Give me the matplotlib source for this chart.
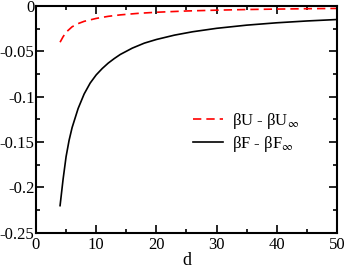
import numpy as np
import matplotlib
matplotlib.use('Agg')
import matplotlib.pyplot as plt
from matplotlib.ticker import MultipleLocator

plt.rcParams['font.family'] = ['Liberation Serif', 'DejaVu Serif']
plt.rcParams['mathtext.fontset'] = 'stix'
plt.rcParams['axes.unicode_minus'] = False

# values
d_U = [4.0, 4.5, 5.0, 6.0, 7.0, 8.0, 10.0, 12.0, 14.0, 17.0, 20.0, 25.0, 30.0, 35.0, 40.0, 45.0, 50.0]
U = [-0.040, -0.034, -0.029, -0.023, -0.0195, -0.0170, -0.0138, -0.0115, -0.0099, -0.0082,
     -0.0070, -0.0056, -0.0047, -0.0040, -0.0035, -0.0031, -0.0028]

d_F = [4.0, 4.5, 5.0, 5.5, 6.0, 7.0, 8.0, 9.0, 10.0, 11.0, 12.0, 13.0, 14.0, 16.0,
       18.0, 20.0, 23.0, 26.0, 30.0, 35.0, 40.0, 45.0, 50.0]
F = [-0.220, -0.191, -0.166, -0.148, -0.134, -0.113, -0.097, -0.085, -0.076, -0.069,
     -0.063, -0.058, -0.0535, -0.0465, -0.041, -0.037, -0.0322, -0.0285, -0.0247,
     -0.0212, -0.0186, -0.0166, -0.0150]

fig = plt.figure(figsize=(3.46, 2.68), dpi=100)
ax = fig.add_axes([0.104, 0.131, 0.870, 0.847])

ax.plot(d_U, U, '--', color='#ff0000', lw=1.2, dashes=(5, 3),
        label=r'βU - βU$_\infty$')
ax.plot(d_F, F, '-', color='k', lw=1.2, label=r'βF - βF$_\infty$')

ax.set_xlim(0, 50)
ax.set_ylim(-0.25, 0)
ax.xaxis.set_major_locator(MultipleLocator(10))
ax.xaxis.set_minor_locator(MultipleLocator(5))
ax.yaxis.set_minor_locator(MultipleLocator(0.025))
ax.set_yticks([0, -0.05, -0.1, -0.15, -0.2, -0.25])
ax.set_yticklabels(['0', '-0.05', '-0.1', '-0.15', '-0.2', '-0.25'])

ax.tick_params(which='both', direction='in', top=True, right=True,
               labelsize=12, width=1.2)
ax.tick_params(axis='x', pad=3)
ax.tick_params(axis='y', pad=1)
ax.tick_params(which='major', length=6)
ax.tick_params(which='minor', length=3)
for s in ax.spines.values():
    s.set_linewidth(1.5)

ax.set_xlabel('d', fontsize=13, labelpad=-1)

ax.legend(loc='upper left', bbox_to_anchor=(0.495, 0.575), frameon=False,
          fontsize=12, handlelength=1.8, handletextpad=0.5, labelspacing=0.2,
          borderpad=0)

fig.savefig('out.png', dpi=100)
